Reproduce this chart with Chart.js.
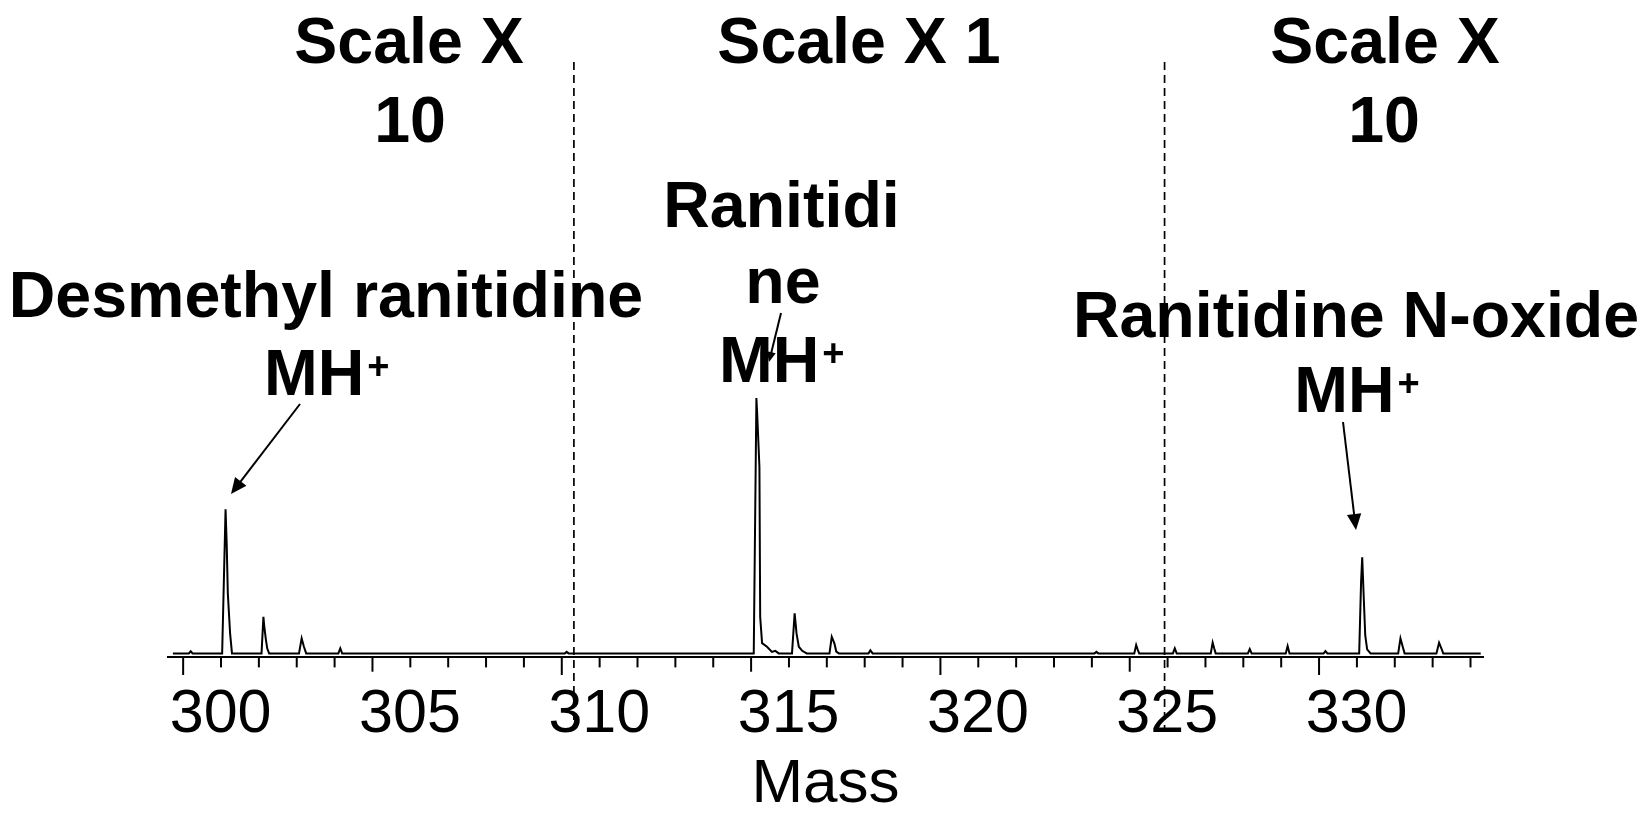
<!DOCTYPE html>
<html>
<head>
<meta charset="utf-8">
<title>Mass spectrum</title>
<script src="https://cdn.jsdelivr.net/npm/chart.js@4.4.1/dist/chart.umd.min.js"></script>
<style>
  html, body { margin: 0; padding: 0; background: #fff; }
  canvas { display: block; }
</style>
</head>
<body>
<canvas id="spectrum" width="1642" height="813"></canvas>
<script>
// Profile trace, one row per peak cluster (m/z, relative intensity)
const mass = [
  299.73, 300.15, 300.2, 300.25,
  301.03, 301.12, 301.15, 301.18, 301.24, 301.29,
  302.07, 302.12, 302.14, 302.18, 302.22, 302.27,
  303.06, 303.13, 303.19, 303.25,
  304.1, 304.15, 304.2,
  310.08, 310.13, 310.18,
  315.07, 315.14, 315.16, 315.22, 315.24, 315.29, 315.42, 315.55, 315.64, 315.73,
  316.08, 316.15, 316.2, 316.26, 316.35, 316.47,
  317.07, 317.13, 317.2, 317.25, 317.32,
  318.1, 318.15, 318.21,
  324.07, 324.12, 324.17,
  325.12, 325.17, 325.21, 325.25,
  326.14, 326.19, 326.24,
  327.14, 327.19, 327.23, 327.27,
  328.12, 328.17, 328.22,
  329.12, 329.17, 329.22,
  330.12, 330.17, 330.22,
  331.06, 331.11, 331.14, 331.18, 331.22, 331.27, 331.36,
  332.09, 332.15, 332.21, 332.26,
  333.1, 333.17, 333.23, 333.28,
  334.27
];
const intensity = [
  0, 0, 0.8, 0,
  0, 56.4, 43, 23.5, 7.8, 0,
  0, 14.3, 11, 6, 2, 0,
  0, 5.9, 2.6, 0,
  0, 2, 0,
  0, 0.6, 0,
  0, 100, 94, 73, 14.3, 4, 2.6, 0.6, 1, 0,
  0, 15.7, 7.8, 2.6, 1, 0,
  0, 6.5, 3.9, 0.7, 0,
  0, 1.2, 0,
  0, 0.6, 0,
  0, 3.3, 1.5, 0,
  0, 2, 0,
  0, 4.2, 2, 0,
  0, 1.7, 0,
  0, 2.9, 0,
  0, 0.9, 0,
  0, 28, 37.6, 22, 7, 1.6, 0,
  0, 5.9, 2.6, 0,
  0, 4.2, 2, 0,
  0
];

// where the display gain changes (x10 | x1 | x10)
const scaleBreaks = [310.32, 325.92];
const regionTitles = [['Scale X', '10'], ['Scale X 1'], ['Scale X', '10']];
const peakNames = [['Desmethyl ranitidine'], ['Ranitidi', 'ne'], ['Ranitidine N-oxide']];
const ionLabel = 'MH';

const FONT = '"Liberation Sans", Arial, sans-serif';
const LABEL_SIZE = 64.5;
const PLUS_SIZE = 38;

// pixel placement of the annotation text and arrows
const titlePos = [
  [[409, 63], [410, 141.5]],
  [[859, 63]],
  [[1385, 63], [1384, 141.5]]
];
const namePos = [
  [[326, 316.7]],
  [[781.5, 226.7], [783, 303.3]],
  [[1356, 336.7]]
];
const ionPos = [[326.7, 395], [781.7, 381.7], [1357, 411.7]];
const arrows = [
  { from: [300, 404], to: [231, 494], head: 16 },
  { from: [781, 313], to: [769, 362], head: 10 },
  { from: [1343, 422], to: [1356, 530], head: 16 }
];

function drawArrow(ctx, a) {
  const [x1, y1] = a.from;
  const [x2, y2] = a.to;
  const ang = Math.atan2(y2 - y1, x2 - x1);
  const bx = x2 - Math.cos(ang) * a.head * 0.8;
  const by = y2 - Math.sin(ang) * a.head * 0.8;
  ctx.beginPath();
  ctx.moveTo(x1, y1);
  ctx.lineTo(bx, by);
  ctx.stroke();
  const w = a.head * 0.45;
  ctx.beginPath();
  ctx.moveTo(x2, y2);
  ctx.lineTo(x2 - Math.cos(ang) * a.head - Math.sin(ang) * w, y2 - Math.sin(ang) * a.head + Math.cos(ang) * w);
  ctx.lineTo(x2 - Math.cos(ang) * a.head + Math.sin(ang) * w, y2 - Math.sin(ang) * a.head - Math.cos(ang) * w);
  ctx.closePath();
  ctx.fill();
}

function drawIon(ctx, cx, baseline) {
  ctx.font = `bold ${LABEL_SIZE}px ${FONT}`;
  const wMain = ctx.measureText(ionLabel).width;
  ctx.font = `bold ${PLUS_SIZE}px ${FONT}`;
  const wPlus = ctx.measureText('+').width;
  const x0 = cx - (wMain + 3 + wPlus) / 2;
  ctx.textAlign = 'left';
  ctx.font = `bold ${LABEL_SIZE}px ${FONT}`;
  ctx.fillText(ionLabel, x0, baseline);
  ctx.font = `bold ${PLUS_SIZE}px ${FONT}`;
  ctx.fillText('+', x0 + wMain + 3, baseline - 16);
}

// minor/major tick marks, gain breaks, labels and arrows
const spectrumDecor = {
  id: 'spectrumDecor',
  afterDraw(chart) {
    const { ctx, chartArea } = chart;
    const x = chart.scales.x;
    ctx.save();
    ctx.strokeStyle = '#000';
    ctx.fillStyle = '#000';

    // tick marks every 1 u, longer at 5 and 10
    ctx.lineWidth = 2;
    for (let v = Math.ceil(x.min); v <= Math.floor(x.max); v++) {
      const px = x.getPixelForValue(v);
      const len = v % 10 === 0 ? 18.3 : (v % 5 === 0 ? 15 : 10.7);
      ctx.beginPath();
      ctx.moveTo(px, chartArea.bottom);
      ctx.lineTo(px, chartArea.bottom + len);
      ctx.stroke();
    }

    // dashed separators
    ctx.lineWidth = 1.7;
    ctx.setLineDash([8, 5]);
    scaleBreaks.forEach(b => {
      const px = x.getPixelForValue(b);
      ctx.beginPath();
      ctx.moveTo(px, 62);
      ctx.lineTo(px, 728);
      ctx.stroke();
    });
    ctx.setLineDash([]);

    ctx.textBaseline = 'alphabetic';
    ctx.textAlign = 'center';
    ctx.font = `bold ${LABEL_SIZE}px ${FONT}`;
    regionTitles.forEach((lines, i) => {
      lines.forEach((t, j) => ctx.fillText(t, titlePos[i][j][0], titlePos[i][j][1]));
    });
    peakNames.forEach((lines, i) => {
      ctx.textAlign = 'center';
      ctx.font = `bold ${LABEL_SIZE}px ${FONT}`;
      lines.forEach((t, j) => ctx.fillText(t, namePos[i][j][0], namePos[i][j][1]));
      drawIon(ctx, ionPos[i][0], ionPos[i][1]);
    });

    ctx.lineWidth = 2;
    arrows.forEach(a => drawArrow(ctx, a));
    ctx.restore();
  }
};

new Chart(document.getElementById('spectrum'), {
  type: 'line',
  data: {
    datasets: [{
      data: mass.map((m, i) => ({ x: m, y: intensity[i] })),
      borderColor: '#000',
      borderWidth: 2,
      pointRadius: 0,
      tension: 0,
      fill: false
    }]
  },
  options: {
    responsive: false,
    animation: false,
    events: [],
    layout: { padding: { left: 168, right: 159, top: 66, bottom: 0 } },
    plugins: {
      legend: { display: false },
      tooltip: { enabled: false }
    },
    scales: {
      x: {
        type: 'linear',
        position: 'bottom',
        min: 299.6,
        max: 334.33,
        grid: { display: false, drawTicks: false },
        border: { display: true, color: '#000', width: 2 },
        ticks: {
          stepSize: 5,
          includeBounds: false,
          autoSkip: false,
          maxRotation: 0,
          padding: 22,
          labelOffset: 37.5,
          color: '#000',
          font: { family: FONT, size: 61 },
          callback: v => String(v)
        },
        title: {
          display: true,
          text: 'Mass',
          color: '#000',
          font: { family: FONT, size: 62, lineHeight: 0.9 },
          padding: { top: 0, bottom: 0 }
        },
        afterFit: scale => { scale.height = 156.3; }
      },
      y: { display: false, min: -1.3, max: 230 }
    }
  },
  plugins: [spectrumDecor]
});
</script>
</body>
</html>
